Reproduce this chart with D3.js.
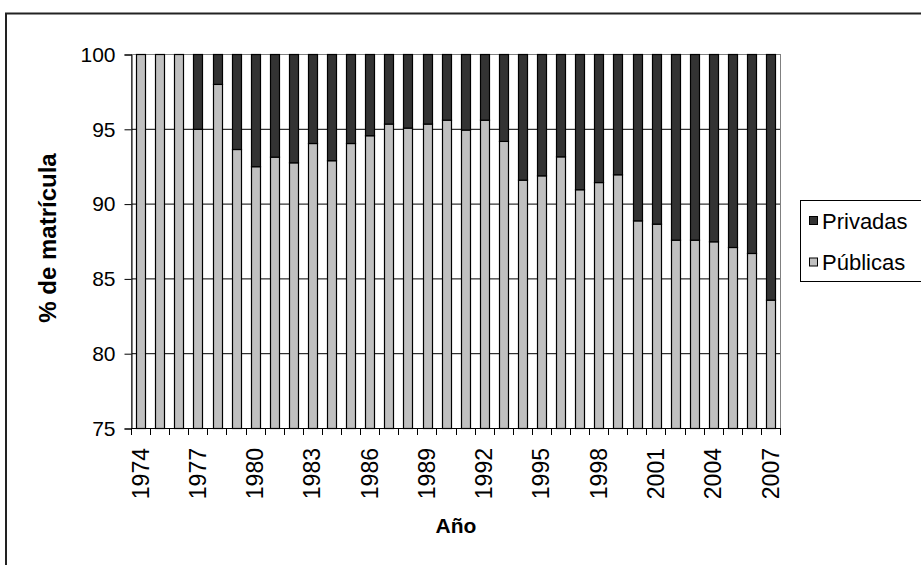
<!DOCTYPE html>
<html>
<head>
<meta charset="utf-8">
<script src="https://cdn.jsdelivr.net/npm/d3@7"></script>
<style>
  html, body { margin: 0; padding: 0; background: #fff; }
  svg text { font-family: Arial, "Liberation Sans", sans-serif; }
</style>
</head>
<body>
<svg id="chart" width="921" height="565"></svg>
<script>
// Enrolment share by year: public vs private institutions (%)
const years = [1974, 1975, 1976, 1977, 1978, 1979, 1980, 1981, 1982, 1983, 1984,
  1985, 1986, 1987, 1988, 1989, 1990, 1991, 1992, 1993, 1994, 1995, 1996, 1997,
  1998, 1999, 2000, 2001, 2002, 2003, 2004, 2005, 2006, 2007];
const publicas = [100, 100, 100, 95.0, 98.0, 93.65, 92.5, 93.14, 92.76, 94.05, 92.9,
  94.05, 94.57, 95.35, 95.08, 95.35, 95.61, 94.95, 95.61, 94.19, 91.6, 91.89, 93.16, 90.96,
  91.44, 91.96, 88.88, 88.66, 87.59, 87.59, 87.48, 87.1, 86.7, 83.58];
const privadas = [0, 0, 0, 5.0, 2.0, 6.35, 7.5, 6.86, 7.24, 5.95, 7.1,
  5.95, 5.43, 4.65, 4.92, 4.65, 4.39, 5.05, 4.39, 5.81, 8.4, 8.11, 6.84, 9.04,
  8.56, 8.04, 11.12, 11.34, 12.41, 12.41, 12.52, 12.9, 13.3, 16.42];
const yTicks = [75, 80, 85, 90, 95, 100];
const xTickLabels = [1974, 1977, 1980, 1983, 1986, 1989, 1992, 1995, 1998, 2001, 2004, 2007];
const seriesNames = ["Públicas", "Privadas"];
const colors = { "Públicas": "#c0c0c0", "Privadas": "#333333" };

const FONT = "Arial, 'Liberation Sans', sans-serif";
const svg = d3.select("#chart");
const margin = { left: 131, right: 141, top: 54, bottom: 137 };
const W = 921, H = 565;
const x0 = margin.left, x1 = W - margin.right, y0 = margin.top, y1 = H - margin.bottom;

// Outer chart frame
svg.append("rect")
  .attr("x", 6).attr("y", 13.5).attr("width", 1000).attr("height", 700)
  .attr("fill", "none").attr("stroke", "#222").attr("stroke-width", 2);

const x = d3.scaleBand().domain(years).range([x0, x1]).paddingInner(0.545).paddingOuter(0.27);
const xEdges = d3.scaleBand().domain(years).range([x0, x1]);
const y = d3.scaleLinear().domain([75, 100]).range([y1, y0]);

// Gridlines
svg.append("g").selectAll("line").data(yTicks.filter(v => v > 75 && v < 100)).join("line")
  .attr("x1", x0).attr("x2", x1)
  .attr("y1", d => y(d) + 0.5).attr("y2", d => y(d) + 0.5)
  .attr("stroke", "#000").attr("stroke-width", 1);

// Plot area border
svg.append("rect")
  .attr("x", x0 + 0.5).attr("y", y0 + 0.5).attr("width", x1 - x0).attr("height", y1 - y0)
  .attr("fill", "none").attr("stroke", "#808080").attr("stroke-width", 1);

// Stacked bars
const table = years.map((yr, i) => ({ year: yr, "Públicas": publicas[i], "Privadas": privadas[i] }));
const stacked = d3.stack().keys(seriesNames)(table);

svg.append("g").selectAll("g").data(stacked).join("g")
  .attr("fill", d => colors[d.key])
  .selectAll("rect").data(d => d).join("rect")
  .attr("x", d => Math.round(x(d.data.year)) + 0.5)
  .attr("width", Math.round(x.bandwidth()))
  .attr("y", d => y(Math.min(d[1], 100)) + 0.5)
  .attr("height", d => y(Math.max(d[0], 75)) - y(Math.min(d[1], 100)))
  .attr("stroke", "#000").attr("stroke-width", 1.2);

// Y axis
const yAxis = svg.append("g").attr("transform", `translate(${x0 + 0.5},0.5)`)
  .call(d3.axisLeft(y).tickValues(yTicks).tickSize(7).tickPadding(9).tickFormat(d3.format("d")))
  .attr("font-family", FONT);
yAxis.select(".domain").attr("stroke", "#000");
yAxis.selectAll(".tick line").attr("stroke", "#000");
yAxis.selectAll("text").attr("font-size", "21px").attr("fill", "#000");

// X axis: tick marks at category boundaries
const xg = svg.append("g").attr("font-family", FONT);
xg.append("line").attr("x1", x0).attr("x2", x1 + 1).attr("y1", y1 + 0.5).attr("y2", y1 + 0.5).attr("stroke", "#000");
xg.selectAll("line.tk").data(years.concat(["end"])).join("line").attr("class", "tk")
  .attr("x1", d => Math.round(d === "end" ? x1 : xEdges(d)) + 0.5)
  .attr("x2", d => Math.round(d === "end" ? x1 : xEdges(d)) + 0.5)
  .attr("y1", y1).attr("y2", y1 + 7)
  .attr("stroke", "#000");
xg.selectAll("text").data(xTickLabels).join("text")
  .attr("transform", d => `translate(${xEdges(d) + xEdges.bandwidth() / 2},${y1 + 20}) rotate(-90)`)
  .attr("text-anchor", "end").attr("dy", "0.35em")
  .attr("font-size", "23px").attr("fill", "#000")
  .text(d => d);

// Axis titles
svg.append("text")
  .attr("x", 456).attr("y", 533).attr("font-family", FONT)
  .attr("text-anchor", "middle").attr("font-size", "21px").attr("font-weight", "bold")
  .text("Año");
svg.append("text")
  .attr("transform", "translate(56,238) rotate(-90)").attr("font-family", FONT)
  .attr("text-anchor", "middle").attr("font-size", "24px").attr("font-weight", "bold")
  .text("% de matrícula");

// Legend
const lg = svg.append("g").attr("font-family", FONT);
lg.append("rect").attr("x", 800.5).attr("y", 200.5).attr("width", 200).attr("height", 81)
  .attr("fill", "#fff").attr("stroke", "#000").attr("stroke-width", 1);
const legendItems = ["Privadas", "Públicas"];
legendItems.forEach((name, i) => {
  const cy = 221 + i * 41.5;
  lg.append("rect").attr("x", 809.5).attr("y", cy - 4.5).attr("width", 8).attr("height", 8)
    .attr("fill", colors[name]).attr("stroke", "#000").attr("stroke-width", 1);
  lg.append("text").attr("x", 822).attr("y", cy + 7.5)
    .attr("font-size", "22px").attr("fill", "#000").text(name);
});
</script>
</body>
</html>
